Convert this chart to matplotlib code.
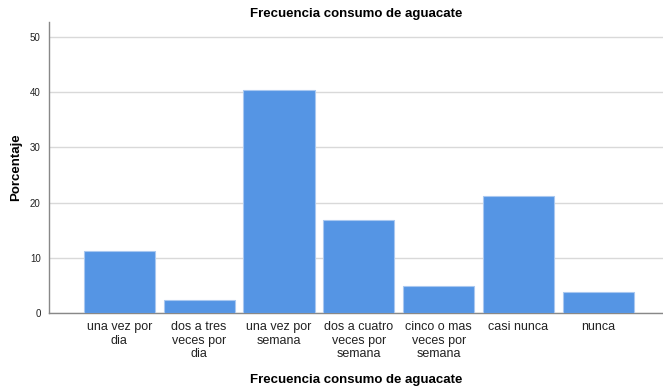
import matplotlib
matplotlib.use('Agg')
import matplotlib.pyplot as plt

plt.rcParams['font.family'] = ['Liberation Sans', 'DejaVu Sans']

# Frecuencia consumo de aguacate (porcentaje)
categories = ['una vez por\ndia', 'dos a tres\nveces por\ndia', 'una vez por\nsemana',
              'dos a cuatro\nveces por\nsemana', 'cinco o mas\nveces por\nsemana',
              'casi nunca', 'nunca']
percent = [11.2, 2.3, 40.4, 16.8, 4.9, 21.2, 3.8]

fig = plt.figure(figsize=(6.63, 3.88), dpi=100)
ax = fig.add_axes([0.074, 0.193, 0.926, 0.75])

x = list(range(len(categories)))
ax.bar(x, percent, width=0.89, color='#5595e4', edgecolor='#a9c8f0', linewidth=0.8, zorder=3)

ax.set_xlim(-0.88, 6.81)
ax.set_ylim(0, 52.7)
ax.set_yticks([0, 10, 20, 30, 40, 50])
ax.set_xticks(x)
ax.set_xticklabels(categories, fontsize=9, color='#222222', linespacing=1.15)
ax.tick_params(axis='y', labelsize=7, length=0, pad=6, colors='#222222')
ax.tick_params(axis='x', length=0, pad=6)

ax.grid(axis='y', color='#d9d9d9', linewidth=1.0, zorder=0)
for s in ['top', 'right']:
    ax.spines[s].set_visible(False)
for s in ['left', 'bottom']:
    ax.spines[s].set_color('#888888')
    ax.spines[s].set_linewidth(1.0)

ax.set_title('Frecuencia consumo de aguacate', fontsize=9.5, fontweight='bold', pad=4)
ax.set_xlabel('Frecuencia consumo de aguacate', fontsize=9.5, fontweight='bold', labelpad=10)
ax.set_ylabel('Porcentaje', fontsize=9.5, fontweight='bold', labelpad=6)

fig.savefig('out.png', dpi=100)
